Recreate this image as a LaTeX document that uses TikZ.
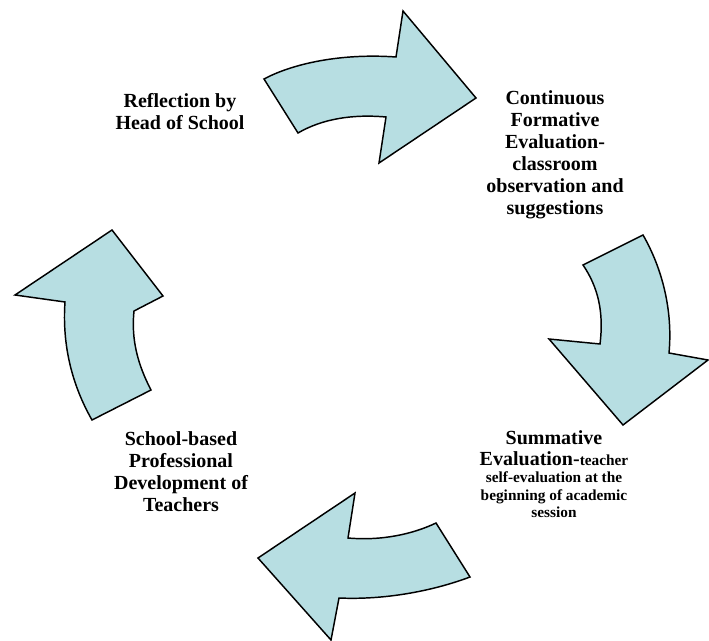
\documentclass[tikz,border=0pt]{standalone}
\usepackage{fontspec}
\setmainfont{Liberation Serif}
\definecolor{arrowfill}{HTML}{B7DEE2}
\begin{document}
\begin{tikzpicture}[x=0.75pt,y=-0.75pt,
  cyclearrow/.style={draw=black,fill=arrowfill,line width=1.1pt,line join=miter},
  label/.style={align=center,font=\bfseries\fontsize{15}{16.5}\selectfont,inner sep=0pt}]
\useasboundingbox (0,0) rectangle (709,641);
% arrow 1 (top)
\draw[cyclearrow] (264,79) .. controls (292,64) and (340,53) .. (396,57) -- (403,11) -- (476,98) -- (379,163) -- (386,117) .. controls (352,114) and (322,119) .. (298,133) -- cycle;
% arrow 2 (right)
\draw[cyclearrow] (583,265) -- (643,235) .. controls (662,268) and (673,310) .. (669,353) -- (708,360) -- (623,425) -- (549,339) -- (600,344) .. controls (604,312) and (598,287) .. (583,265) -- cycle;
% arrow 3 (bottom)
\draw[cyclearrow] (436,523) -- (470,577) .. controls (430,592) and (382,600) .. (339,598) -- (331,640) -- (258,558) -- (355,493) -- (348,538) .. controls (382,541) and (413,534) .. (436,523) -- cycle;
% arrow 4 (left)
\draw[cyclearrow] (92,420) -- (151,390) .. controls (138,365) and (131,340) .. (134,311) -- (163,296) -- (112,230) -- (15,295) -- (65,302) .. controls (62,345) and (72,385) .. (92,420) -- cycle;
% labels
\node[label] (refl) at (180,112) {Reflection by\\Head of School};
\node[label] (cont) at (555,155) {Continuous\\Formative\\Evaluation-\\classroom\\observation and\\suggestions};
\node[label] (prof) at (181,472) {School-based\\Professional\\Development of\\Teachers};
\node[label,anchor=north,font=\bfseries\fontsize{11.5}{12.8}\selectfont] (summ) at (554,430) {{\fontsize{15}{16.5}\selectfont Summative}\\[3pt]{\fontsize{15}{16.5}\selectfont Evaluation-}teacher\\[0.5pt]self-evaluation at the\\beginning of academic\\session};
\end{tikzpicture}
\end{document}
